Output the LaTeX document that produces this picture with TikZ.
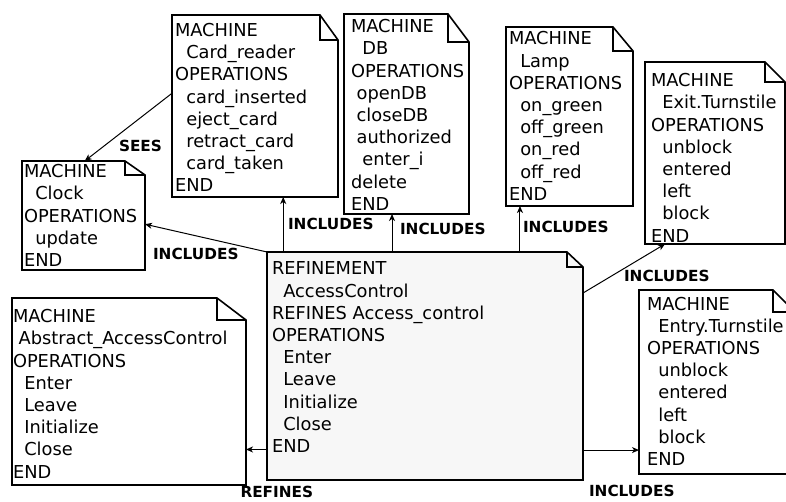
\documentclass[tikz,border=0pt]{standalone}
\usepackage{fontspec}
\setmainfont{DejaVu Sans}
\usetikzlibrary{calc,arrows.meta}
\newcommand\notepath[4][]{%
  \draw[noteline,#1] (#2.north west) -- ([xshift=-#3]#2.north east) -- ([yshift=-#4]#2.north east) -- (#2.south east) -- (#2.south west) -- cycle;
  \draw[noteline] ([xshift=-#3]#2.north east) |- ([yshift=-#4]#2.north east);}
\newcommand\lns[1]{\vtop{\baselineskip=22.2pt\lineskiplimit=-20pt\lineskip=0pt #1}}
\newcommand\tline[1]{\hbox{#1}}
\begin{document}
\begin{tikzpicture}[x=1pt,y=-1pt,
  boxnode/.style={rectangle,draw=none,inner sep=0pt,outer sep=0pt,anchor=north west},
  noteline/.style={line width=1.6pt,line join=miter},
  txt/.style={inner sep=0pt,outer sep=0pt,anchor=base west,font=\fontsize{17.8}{22.2}\selectfont},
  lbl/.style={inner sep=0pt,outer sep=0pt,anchor=base west,text depth=0pt,font=\fontsize{15.3}{18}\selectfont\bfseries},
  arr/.style={line width=1pt,-{Stealth[length=7pt,width=6pt,inset=2pt]}}]
\useasboundingbox (0,0) rectangle (786,502);
\clip (0,0) rectangle (786,502);
\fill[white] (0,0) rectangle (786,502);
% box frames (nodes)
\node[boxnode,minimum width=166pt,minimum height=182pt] (card) at (172,15) {};
\node[boxnode,minimum width=123pt,minimum height=109pt] (clock) at (22,161) {};
\node[boxnode,minimum width=125pt,minimum height=200pt] (db) at (344,14) {};
\node[boxnode,minimum width=127pt,minimum height=179pt] (lamp) at (506,27) {};
\node[boxnode,minimum width=140pt,minimum height=182pt] (exit) at (645,62) {};
\node[boxnode,minimum width=234pt,minimum height=187pt] (abs) at (12,298) {};
\node[boxnode,minimum width=316pt,minimum height=228pt] (ref) at (267,252) {};
\node[boxnode,minimum width=156pt,minimum height=184pt] (entry) at (639,290) {};
\notepath[fill={rgb,255:red,247;green,247;blue,247}]{ref}{16pt}{15pt}
\notepath[fill=white]{card}{18pt}{25pt}
\notepath[fill=white]{clock}{20pt}{14pt}
\notepath[fill=white]{db}{21pt}{28pt}
\notepath[fill=white]{lamp}{20pt}{24pt}
\notepath[fill=white]{exit}{20pt}{20pt}
\notepath[fill=white]{abs}{29pt}{22pt}
\notepath[fill=white]{entry}{22pt}{22pt}
% texts
\node[txt] (cardT) at (175,36.5) {\lns{\tline{MACHINE}\tline{\ \ Card\_reader}\tline{OPERATIONS}\tline{\ \ card\_inserted}\tline{\ \ eject\_card}\tline{\ \ retract\_card}\tline{\ \ card\_taken}\tline{END}}};
\node[txt] (clockT) at (24,177.7) {\lns{\tline{MACHINE}\tline{\ \ Clock}\tline{OPERATIONS}\tline{\ \ update}\tline{END}}};
\node[txt] (dbT) at (351,32.7) {\lns{\tline{MACHINE}\tline{\ \ DB}\tline{OPERATIONS}\tline{\ openDB}\tline{\ closeDB}\tline{\ authorized}\tline{\ \ enter\_i}\tline{delete}\tline{END}}};
\node[txt] (lampT) at (509,45) {\lns{\tline{MACHINE}\tline{\ \ Lamp}\tline{OPERATIONS}\tline{\ \ on\_green}\tline{\ \ off\_green}\tline{\ \ on\_red}\tline{\ \ off\_red}\tline{END}}};
\node[txt] (exitT) at (651,86.7) {\lns{\tline{MACHINE}\tline{\ \ Exit.Turnstile}\tline{OPERATIONS}\tline{\ \ unblock}\tline{\ \ entered}\tline{\ \ left}\tline{\ \ block}\tline{END}}};
\node[txt] (absT) at (13,322.7) {\lns{\tline{MACHINE}\tline{\ Abstract\_AccessControl}\tline{OPERATIONS}\tline{\ \ Enter}\tline{\ \ Leave}\tline{\ \ Initialize}\tline{\ \ Close}\tline{END}}};
\node[txt] (refT) at (272,275) {\lns{\tline{REFINEMENT}\tline{\ \ AccessControl}\tline{REFINES Access\_control}\tline{OPERATIONS}\tline{\ \ Enter}\tline{\ \ Leave}\tline{\ \ Initialize}\tline{\ \ Close}\tline{END}}};
\node[txt] (entryT) at (647,310) {\lns{\tline{MACHINE}\tline{\ \ Entry.Turnstile}\tline{OPERATIONS}\tline{\ \ unblock}\tline{\ \ entered}\tline{\ \ left}\tline{\ \ block}\tline{END}}};
% connectors
\coordinate (sA) at ($(card.north west)!0.43!(card.south west)$);
\coordinate (sB) at ($(clock.north west)!0.51!(clock.north east)$);
\draw[arr] (sA) -- (sB);
\coordinate (cA) at ($(clock.north east)!0.58!(clock.south east)$);
\draw[arr] (ref.north west) -- (cA);
\coordinate (crA) at ($(card.south west)!0.67!(card.south east)$);
\draw[arr] (crA |- ref.north) -- (crA);
\coordinate (dbA) at ($(db.south west)!0.384!(db.south east)$);
\draw[arr] (dbA |- ref.north) -- (dbA);
\coordinate (lA) at ($(lamp.south west)!0.11!(lamp.south east)$);
\draw[arr] (lA |- ref.north) -- (lA);
\coordinate (eA) at ($(ref.north east)!0.18!(ref.south east)$);
\coordinate (eB) at ($(exit.south west)!0.143!(exit.south east)$);
\draw[arr] (eA) -- (eB);
\coordinate (enA) at ($(entry.north west)!0.87!(entry.south west)$);
\draw[arr] (ref.east |- enA) -- (enA);
\coordinate (rA) at ($(abs.north east)!0.81!(abs.south east)$);
\draw[arr] (ref.west |- rA) -- (rA);
% labels
\node[lbl] (lSees) at (119,151.7) {SEES};
\node[lbl] (lClock) at (153,259.3) {INCLUDES};
\node[lbl] (lCard) at (288,230) {INCLUDES};
\node[lbl] (lDb) at (400,235) {INCLUDES};
\node[lbl] (lLamp) at (523,232.7) {INCLUDES};
\node[lbl] (lExit) at (624,282) {INCLUDES};
\node[lbl] (lEntry) at (589,496.7) {INCLUDES};
\node[lbl] (lRef) at (240.5,497.5) {REFINES};
\end{tikzpicture}
\end{document}
